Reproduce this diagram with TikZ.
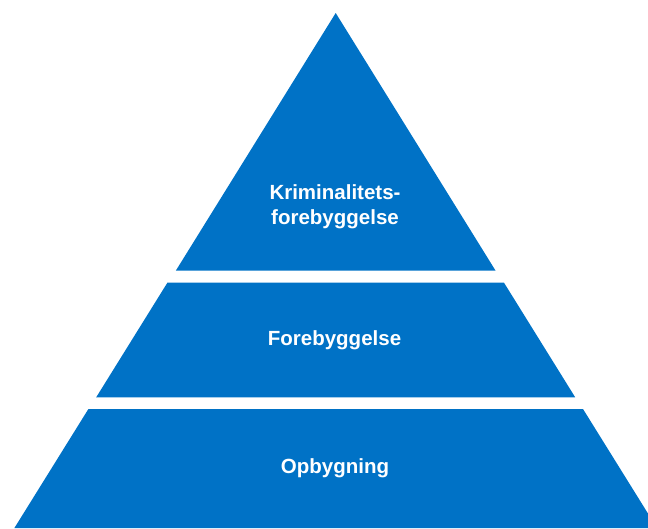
\documentclass[tikz,border=0pt]{standalone}
\usepackage{fontspec}
\setmainfont{Liberation Sans}
\definecolor{pyrblue}{HTML}{0072C6}
\begin{document}
\begin{tikzpicture}[x=1pt,y=-1pt,
  tier/.style={fill=pyrblue,draw=none},
  lbl/.style={text=white,font=\bfseries\fontsize{20.5}{25}\selectfont,align=center,inner sep=0pt}]
\useasboundingbox (0,0) rectangle (648,528);
\clip (0,0) rectangle (648,528);
% top triangle
\fill[tier] (335.7,13) -- (495.6,270.7) -- (175.8,270.7) -- cycle;
% middle band
\fill[tier] (167.4,282.7) -- (504,282.7) -- (575.2,397.3) -- (96.2,397.3) -- cycle;
% bottom band
\fill[tier] (88.4,409) -- (583,409) -- (657,528) -- (14.4,528) -- cycle;
\node[lbl] (top) at (335,207) {Kriminalitets-\\forebyggelse};
\node[lbl] (mid) at (334.5,340) {Forebyggelse};
\node[lbl] (bot) at (335,468) {Opbygning};
\end{tikzpicture}
\end{document}
